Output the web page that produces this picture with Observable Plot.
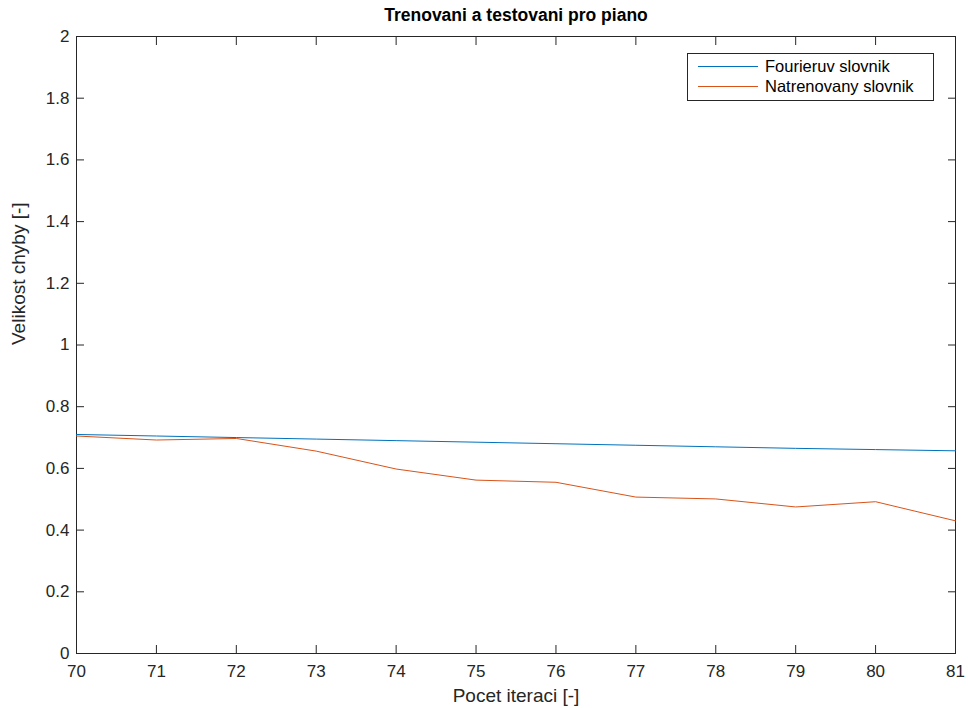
<!DOCTYPE html>
<html><head><meta charset="utf-8">
<script src="https://cdn.jsdelivr.net/npm/d3@7"></script>
<script src="https://cdn.jsdelivr.net/npm/@observablehq/plot@0.6"></script>
<style>
body{margin:0;background:#fff;font-family:"Liberation Sans",Arial,sans-serif;}
#wrap{position:relative;width:968px;height:708px;}
#legend{position:absolute;left:687px;top:53px;width:247px;height:48px;border:1px solid #262626;background:#fff;box-sizing:border-box;font-size:16.5px;color:#000;}
#legend .row{position:absolute;left:10px;display:flex;align-items:center;}
#legend .sw{width:60px;height:0;border-top:1px solid;margin-right:7px;}
</style></head>
<body><div id="wrap"></div>
<script>
const iterations = [70,71,72,73,74,75,76,77,78,79,80,81];
const fourier = [0.710,0.705,0.700,0.695,0.690,0.685,0.680,0.675,0.670,0.665,0.661,0.657];
const trained = [0.705,0.692,0.697,0.656,0.598,0.562,0.555,0.507,0.501,0.475,0.492,0.430];
const seriesNames = ["Fourieruv slovnik","Natrenovany slovnik"];
const colors = ["#0072BD","#D95319"];
const xTicks = iterations;
const yTicks = [0,0.2,0.4,0.6,0.8,1,1.2,1.4,1.6,1.8,2];
const title = "Trenovani a testovani pro piano";
const xLabel = "Pocet iteraci [-]";
const yLabel = "Velikost chyby [-]";

const data = [];
iterations.forEach((x,i)=>{
  data.push({x, y: fourier[i], s: seriesNames[0]});
  data.push({x, y: trained[i], s: seriesNames[1]});
});

const plot = Plot.plot({
  width: 968, height: 708,
  marginLeft: 76, marginRight: 13, marginTop: 36, marginBottom: 55,
  style: {fontFamily: "Liberation Sans, Arial, sans-serif", fontSize: "17px", color: "#262626", background: "#fff", overflow: "visible"},
  x: {domain: [70,81]},
  y: {domain: [0,2]},
  color: {domain: seriesNames, range: colors},
  marks: [
    Plot.frame({stroke: "#262626", strokeWidth: 1}),
    Plot.axisX({ticks: xTicks, tickSize: -8, tickPadding: 19, tickFormat: d=>String(d), label: null, fontSize: 17, fill: "#262626"}),
    Plot.axisX({ticks: xTicks, anchor: "top", tickSize: -8, tickFormat: ()=>"", label: null}),
    Plot.axisY({ticks: yTicks, tickSize: -8, tickPadding: 15, tickFormat: d=>String(d), label: null, fontSize: 17, fill: "#262626"}),
    Plot.axisY({ticks: yTicks, anchor: "right", tickSize: -8, tickFormat: ()=>"", label: null}),
    Plot.line(data, {x: "x", y: "y", z: "s", stroke: "s", strokeWidth: 1}),
    Plot.text([title], {frameAnchor: "top", dy: -28, fontWeight: "bold", fontSize: 17.5, fill: "#000", lineAnchor: "top"}),
    Plot.text([xLabel], {frameAnchor: "bottom", dy: 48, fontSize: 19, fill: "#262626"}),
    Plot.text([yLabel], {frameAnchor: "left", dx: -58, rotate: -90, fontSize: 19, fill: "#262626"})
  ]
});
const wrap = document.getElementById("wrap");
wrap.appendChild(plot);
const lg = document.createElement("div");
lg.id = "legend";
seriesNames.forEach((n,i)=>{
  const r = document.createElement("div");
  r.className = "row";
  r.style.top = (i===0 ? 3 : 23) + "px";
  r.innerHTML = `<span class="sw" style="border-color:${colors[i]}"></span><span>${n}</span>`;
  lg.appendChild(r);
});
wrap.appendChild(lg);
</script></body></html>
